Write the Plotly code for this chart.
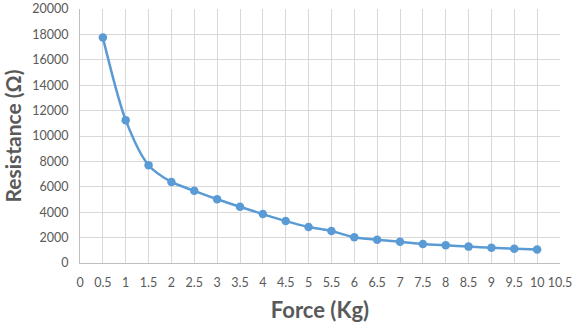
import plotly.graph_objects as go

force_kg = [0.5, 1, 1.5, 2, 2.5, 3, 3.5, 4, 4.5, 5, 5.5, 6, 6.5, 7, 7.5, 8, 8.5, 9, 9.5, 10]
resistance_ohm = [17750, 11250, 7700, 6380, 5680, 5020, 4430, 3850, 3300, 2840, 2520, 2020,
                  1830, 1680, 1500, 1390, 1290, 1200, 1120, 1070]

x_ticks = [i * 0.5 for i in range(22)]
x_tick_text = [("%g" % v) for v in x_ticks]
y_ticks = list(range(0, 20001, 2000))
y_tick_text = [str(v) for v in y_ticks]

blue = "#5b9bd5"
text_grey = "#595959"
grid = "#d9d9d9"
font_family = "Lato, Open Sans, sans-serif"

fig = go.Figure(
    go.Scatter(
        x=force_kg,
        y=resistance_ohm,
        mode="lines+markers",
        line=dict(color=blue, width=2.5, shape="spline", smoothing=0.8),
        marker=dict(color=blue, size=8.5),
        showlegend=False,
    )
)

fig.update_layout(
    width=575,
    height=326,
    margin=dict(l=80, r=15, t=9, b=63),
    paper_bgcolor="white",
    plot_bgcolor="white",
    font=dict(family=font_family, color=text_grey, size=13),
)

fig.update_xaxes(
    range=[0, 10.5],
    tickvals=x_ticks,
    ticktext=x_tick_text,
    tickangle=0,
    automargin=False,
    showgrid=True,
    gridcolor=grid,
    gridwidth=1,
    showline=True,
    linecolor="#bfbfbf",
    mirror=False,
    zeroline=False,
    ticks="",
    ticklabelstandoff=8,
    tickfont=dict(size=12.5, color=text_grey),
    title=dict(text="<b>Force (Kg)</b>", font=dict(size=22, color=text_grey), standoff=13),
)

fig.update_yaxes(
    range=[0, 20000],
    tickvals=y_ticks,
    ticktext=y_tick_text,
    automargin=False,
    showgrid=True,
    gridcolor=grid,
    gridwidth=1,
    showline=True,
    linecolor="#bfbfbf",
    zeroline=False,
    ticks="",
    ticklabelstandoff=8,
    tickfont=dict(size=12.5, color=text_grey),
    title=dict(text="<b>Resistance (Ω)</b>", font=dict(size=21, color=text_grey), standoff=14),
)

fig.write_html("out.html")
